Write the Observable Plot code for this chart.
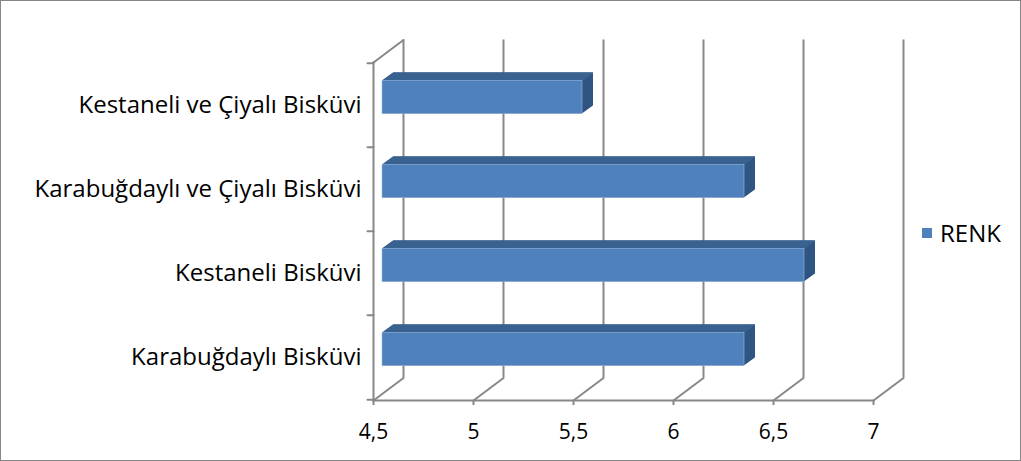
<!DOCTYPE html>
<html><head><meta charset="utf-8">
<script src="https://cdn.jsdelivr.net/npm/d3@7"></script>
<script src="https://cdn.jsdelivr.net/npm/@observablehq/plot@0.6"></script>
<style>
html,body{margin:0;padding:0;background:#fff}
#chart{position:relative;width:1021px;height:461px;overflow:hidden;font-family:"Open Sans",Lato,sans-serif;background:#fff}
#chart svg{position:absolute;left:0;top:0}
#frame{position:absolute;left:0;top:0;width:1021px;height:461px;box-sizing:border-box;border:1px solid #868686;pointer-events:none}
#legend{position:absolute;left:922px;top:217px;display:flex;align-items:center;font-size:24px;color:#000;line-height:32px}
#legend .sw{display:inline-block;width:10px;height:10px;background:#4f81bd;margin-right:8px}
</style></head><body>
<div id="chart"><div id="frame"></div><div id="legend"><span class="sw"></span><span id="legend-label"></span></div></div>
<script>
// ---- data ----
const categories = [
  "Kestaneli ve Çiyalı Bisküvi",
  "Karabuğdaylı ve Çiyalı Bisküvi",
  "Kestaneli Bisküvi",
  "Karabuğdaylı Bisküvi"
];
const renk = [5.5, 6.31, 6.61, 6.31];
const xTicks = [4.5, 5, 5.5, 6, 6.5, 7];
const seriesName = "RENK";

const data = categories.map((c, i) => ({cat: c, value: renk[i]}));
const xMin = xTicks[0], xMax = xTicks[xTicks.length - 1];

const W = 1021, H = 461, mL = 373, mR = 148, mT = 62, mB = 61;
const bw = (H - mT - mB) / categories.length;
const gridColor = "#888888", gw = 2;
const front = "#4f81bd", topC = "#3c6392", sideC = "#2f5583";
const depthX = 30, depthY = 22.5;       // wall depth
const barDx = 9, barDepthX = 11, barDepthY = 8;
const insTop = 17.5, faceH = 33.5, insBot = bw - insTop - faceH;
const lineShape = {draw(ctx, l) { ctx.moveTo(0, 0); ctx.lineTo(0, -l); }};
const slantLen = Math.hypot(depthX, depthY);
const slantRot = Math.atan2(depthX, depthY) * 180 / Math.PI;
const xFont = 21, yFont = 24;

const N = 24;
const steps = d3.range(N + 1).map(i => i / N);

const marks = [
  // back wall gridlines
  Plot.ruleX(xTicks, {x: d => d, dx: depthX, dy: -depthY, stroke: gridColor, strokeWidth: gw}),
  // floor slants
  Plot.vector(xTicks, {x: d => d, frameAnchor: "bottom", anchor: "start", length: slantLen, rotate: slantRot, shape: lineShape, stroke: gridColor, strokeWidth: gw}),
  // top-left wall slant
  Plot.vector([xMin], {x: d => d, frameAnchor: "top", anchor: "start", length: slantLen, rotate: slantRot, shape: lineShape, stroke: gridColor, strokeWidth: gw}),
  Plot.frame({anchor: "left", stroke: gridColor, strokeWidth: gw}),
  Plot.frame({anchor: "bottom", stroke: gridColor, strokeWidth: gw}),
  // category boundary ticks
  Plot.vector(categories, {y: d => d, frameAnchor: "left", anchor: "start", length: 6, rotate: -90, dy: -bw / 2, shape: lineShape, stroke: gridColor, strokeWidth: gw}),
  Plot.vector([categories[categories.length - 1]], {y: d => d, frameAnchor: "left", anchor: "start", length: 6, rotate: -90, dy: bw / 2, shape: lineShape, stroke: gridColor, strokeWidth: gw}),
  Plot.axisX(xTicks, {anchor: "bottom", label: null, tickSize: 5, tickPadding: 19, stroke: gridColor, strokeWidth: gw, fill: "#000", fontSize: xFont, tickFormat: d => String(d).replace(".", ",")}),
  Plot.axisY({anchor: "left", label: null, tickSize: 0, tickPadding: 12, fill: "#000", fontSize: yFont}),
  // extruded bar body (side colour)
  ...steps.map(t => Plot.barX(data, {y: "cat", x1: () => xMin, x2: "value", insetTop: insTop, insetBottom: insBot, dx: barDx + barDepthX * t, dy: -barDepthY * t, fill: sideC})),
  // top face slices
  ...steps.map(t => Plot.barX(data, {y: "cat", x1: () => xMin, x2: "value", insetTop: insTop, insetBottom: bw - insTop - 1.2, dx: barDx + barDepthX * t, dy: -barDepthY * t, fill: topC})),
  // front face
  Plot.barX(data, {y: "cat", x1: () => xMin, x2: "value", insetTop: insTop, insetBottom: insBot, dx: barDx, fill: front, stroke: "#9fbadf", strokeWidth: 0.6})
];

const svg = Plot.plot({
  width: W, height: H,
  marginLeft: mL, marginRight: mR, marginTop: mT, marginBottom: mB,
  style: {fontFamily: "'Open Sans', Lato, sans-serif", fontSize: yFont + "px", background: "transparent", color: "#000"},
  x: {domain: [xMin, xMax], label: null},
  y: {type: "band", domain: categories, padding: 0, label: null},
  marks
});
const chart = document.getElementById("chart");
chart.insertBefore(svg, chart.firstChild);
document.getElementById("legend-label").textContent = seriesName;
</script>
</body></html>
